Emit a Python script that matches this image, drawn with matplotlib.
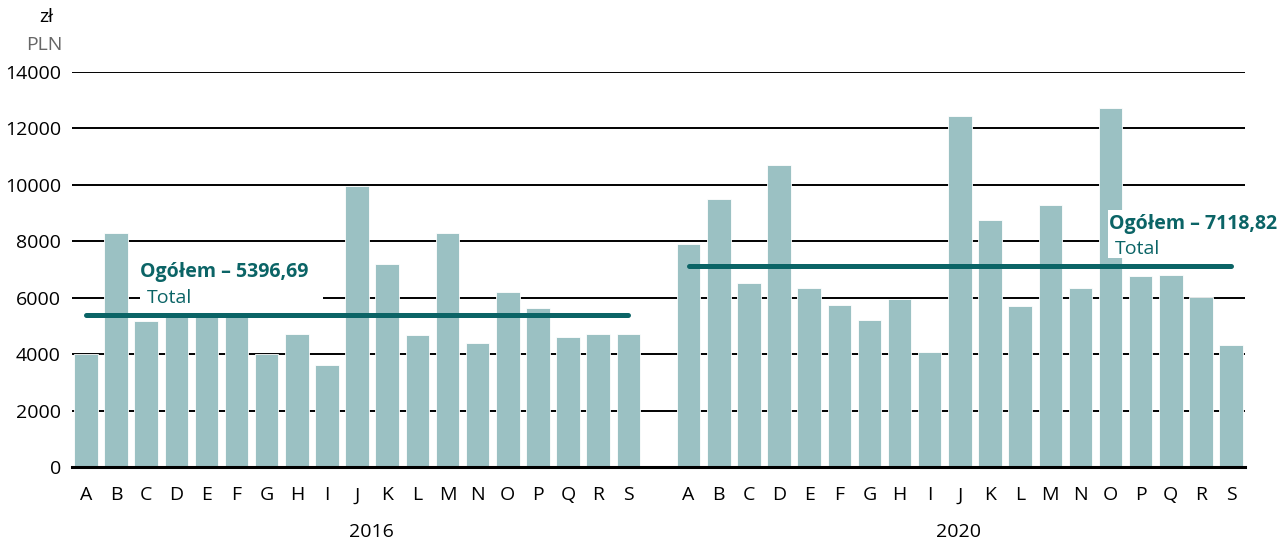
import matplotlib
matplotlib.use("Agg")
import matplotlib.pyplot as plt
import numpy as np
from matplotlib.patches import Rectangle

plt.rcParams['font.family'] = ['Open Sans', 'DejaVu Sans']

letters = list("ABCDEFGHIJKLMNOPQRS")
years = ["2016", "2020"]
values_2016 = [4000, 8300, 5180, 5380, 5380, 5420, 4000, 4700, 3600, 9950,
               7200, 4680, 8290, 4380, 6190, 5640, 4610, 4720, 4720]
values_2020 = [7900, 9500, 6520, 10700, 6350, 5730, 5210, 5950, 4070, 12450,
               8740, 5690, 9290, 6330, 12710, 6770, 6790, 6010, 4340]
mean_2016 = 5396.69
mean_2020 = 7118.82

bar_color = "#9bc1c3"
teal = "#0b6466"

x16 = np.arange(19)
x20 = np.arange(19) + 20

fig = plt.figure(figsize=(12.8, 5.43), dpi=100)
ax = fig.add_axes([0.05625, 0.14, 0.9164, 0.7274])

ax.bar(x16, values_2016, width=0.78, color=bar_color, edgecolor="white", linewidth=0.6, zorder=2)
ax.bar(x20, values_2020, width=0.78, color=bar_color, edgecolor="white", linewidth=0.6, zorder=2)

ax.set_ylim(0, 14000)
ax.set_xlim(-0.46, 38.46)
ax.set_yticks(np.arange(0, 14001, 2000))
ax.yaxis.grid(True, color="black", linewidth=1.4, zorder=0)
ax.set_axisbelow(True)
for s in ["top", "right", "left"]:
    ax.spines[s].set_visible(False)
ax.spines["bottom"].set_linewidth(2.2)
ax.spines["bottom"].set_zorder(3)
ax.tick_params(axis="both", length=0, labelsize=14, colors="black")
ax.tick_params(axis="y", pad=8)
ax.tick_params(axis="x", pad=14)
ax.set_xticks(np.concatenate([x16, x20]))
ax.set_xticklabels(letters + letters)

# mean lines
ax.plot([x16[0], x16[-1]], [mean_2016, mean_2016], color=teal, lw=3.6,
        solid_capstyle="round", zorder=4)
ax.plot([x20[0], x20[-1]], [mean_2020, mean_2020], color=teal, lw=3.6,
        solid_capstyle="round", zorder=4)

# white boxes behind the labels
ax.add_patch(Rectangle((1.79, 5635), 6.08, 1880, facecolor="white",
                       edgecolor="none", zorder=5))
ax.add_patch(Rectangle((33.93, 7407), 5.8, 1700, facecolor="white",
                       edgecolor="none", zorder=5, clip_on=False))

ax.text(1.81, 6723, "Ogółem – " + f"{mean_2016:.2f}".replace(".", ","),
        color=teal, fontsize=14, fontweight="bold", va="baseline", zorder=6)
ax.text(2.01, 5800, "Total", color=teal, fontsize=14, va="baseline", zorder=6)
ax.text(33.94, 8424, "Ogółem – " + f"{mean_2020:.2f}".replace(".", ","),
        color=teal, fontsize=14, fontweight="bold", va="baseline", zorder=6,
        clip_on=False)
ax.text(34.15, 7537, "Total", color=teal, fontsize=14, va="baseline", zorder=6)

# year labels
ax.text(9.46, -0.165, years[0], transform=ax.get_xaxis_transform(),
        ha="center", va="center", fontsize=14)
ax.text(28.94, -0.165, years[1], transform=ax.get_xaxis_transform(),
        ha="center", va="center", fontsize=14)

# unit labels
fig.text(46 / 1280, 1 - 17 / 543, "zł", ha="center", va="center", fontsize=14)
fig.text(63 / 1280, 1 - 45 / 543, "PLN", ha="right", va="center", fontsize=14, color="#666666")

fig.savefig("out.png", dpi=100)
